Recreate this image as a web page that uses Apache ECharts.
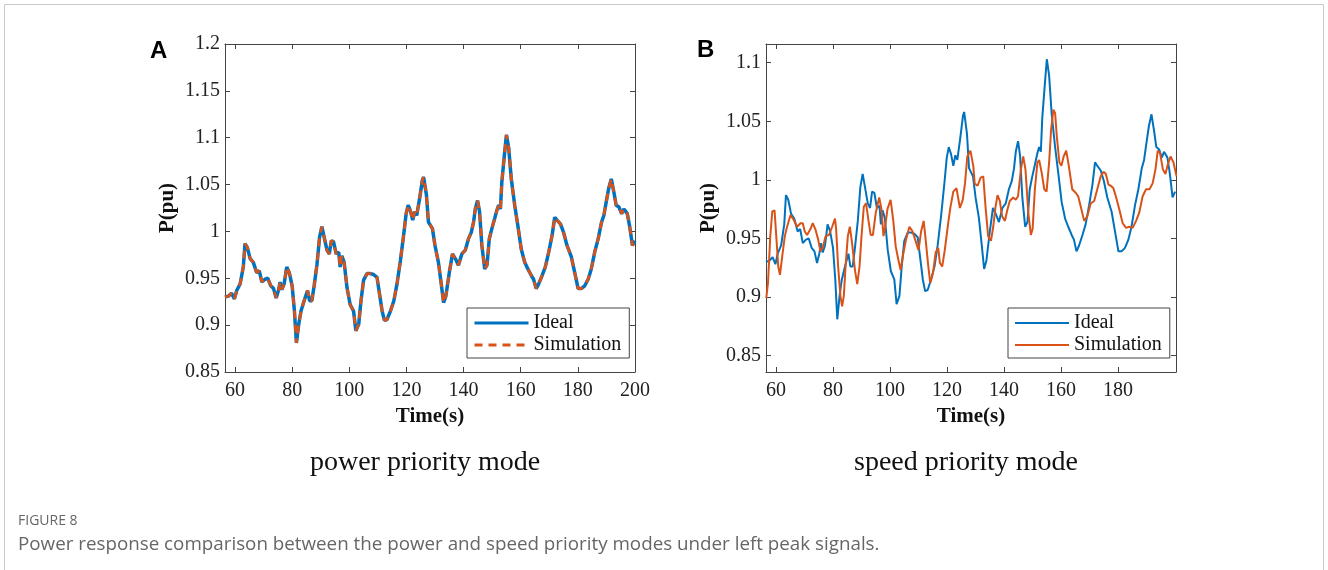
<!DOCTYPE html>
<html>
<head>
<meta charset="utf-8">
<title>Power response comparison</title>
<script src="https://cdn.jsdelivr.net/npm/echarts@6/dist/echarts.min.js"></script>
<style>
  html, body { margin: 0; padding: 0; background: #fff; }
  #chart { width: 1328px; height: 570px; }
</style>
</head>
<body>
<div id="chart"></div>
<script>
// ideal power reference (same signal in both panels), time in s
const idealT = [56.5, 57.7, 58.8, 59.8, 60.6, 61.8, 62.9, 63.5, 64.3, 65.3, 66.4, 67.6, 68.5, 69.4, 70.5, 71.5,
  72.5, 73.5, 74.4, 75.2, 75.8, 76.4, 77.2, 78.1, 79.0, 80.0, 80.8, 81.5, 82.3, 83.1, 84.2, 85.4, 86.1, 86.9,
  87.7, 88.7, 89.6, 90.4, 91.2, 92.2, 93.0, 93.7, 94.5, 95.4, 96.3, 96.8, 97.4, 98.2, 99.2, 100.3, 101.5,
  102.3, 103.3, 104.1, 105.0, 106.2, 107.4, 108.5, 109.7, 110.6, 111.5, 112.3, 113.2, 114.4, 115.6, 116.7,
  117.9, 119.1, 119.9, 120.6, 121.4, 122.2, 122.9, 123.6, 124.6, 125.6, 126.0, 127.0, 127.7, 129.1, 130.0,
  131.2, 132.1, 133.0, 133.8, 135.0, 136.1, 137.1, 138.2, 139.4, 140.6, 141.7, 142.7, 143.5, 144.1, 144.9,
  145.6, 146.4, 147.4, 148.2, 149.0, 149.9, 150.9, 151.7, 152.3, 152.9, 153.4, 154.4, 155.0, 155.8, 156.7,
  157.9, 159.0, 160.2, 161.4, 162.5, 163.7, 164.5, 165.4, 166.3, 167.5, 168.6, 169.8, 171.0, 171.9, 172.7,
  173.9, 175.0, 176.2, 177.7, 178.9, 180.1, 181.2, 182.4, 183.6, 184.7, 185.9, 187.1, 188.3, 189.1, 189.9,
  190.8, 191.7, 192.6, 193.4, 194.4, 195.3, 196.1, 197.3, 198.1, 199.1, 200.0]
const idealP = [0.930, 0.931, 0.934, 0.928, 0.937, 0.944, 0.962, 0.987, 0.983, 0.971, 0.967, 0.956, 0.958, 0.946,
  0.949, 0.950, 0.942, 0.939, 0.929, 0.937, 0.946, 0.938, 0.944, 0.962, 0.956, 0.942, 0.915, 0.881, 0.901,
  0.915, 0.926, 0.937, 0.926, 0.926, 0.942, 0.965, 0.994, 1.005, 0.994, 0.980, 0.976, 0.990, 0.989, 0.976,
  0.978, 0.962, 0.974, 0.967, 0.940, 0.922, 0.915, 0.894, 0.901, 0.926, 0.948, 0.955, 0.955, 0.954, 0.951,
  0.933, 0.915, 0.905, 0.906, 0.915, 0.926, 0.944, 0.969, 0.998, 1.019, 1.028, 1.022, 1.012, 1.021, 1.017,
  1.035, 1.055, 1.058, 1.039, 1.010, 1.003, 0.985, 0.967, 0.946, 0.924, 0.931, 0.956, 0.976, 0.971, 0.964,
  0.976, 0.980, 0.992, 0.999, 1.010, 1.024, 1.033, 1.021, 0.985, 0.960, 0.964, 0.992, 1.003, 1.014, 1.023,
  1.028, 1.024, 1.053, 1.085, 1.103, 1.089, 1.056, 1.028, 1.006, 0.981, 0.967, 0.960, 0.953, 0.949, 0.939,
  0.944, 0.953, 0.962, 0.978, 0.996, 1.015, 1.012, 1.008, 0.999, 0.985, 0.973, 0.956, 0.939, 0.939, 0.942,
  0.949, 0.960, 0.978, 0.992, 1.010, 1.017, 1.031, 1.046, 1.056, 1.042, 1.028, 1.026, 1.019, 1.024, 1.019,
  1.006, 0.985, 0.990]

// power priority mode: simulation lies on top of the ideal curve
const simPowerT = idealT
const simPowerP = idealP

// speed priority mode simulation
const simSpeedT = [56.6, 57.2, 58.0, 58.7, 59.5, 60.1, 60.8, 61.4, 62.2, 63.1, 63.9, 65.1, 66.2, 67.4, 68.6, 69.4,
  70.1, 70.9, 72.1, 72.9, 73.8, 74.8, 75.6, 76.4, 77.4, 78.6, 79.7, 80.7, 81.1, 81.8, 82.6, 83.2, 83.8, 84.4,
  85.2, 85.9, 86.7, 87.7, 88.5, 89.3, 90.0, 90.8, 91.6, 92.4, 93.2, 94.0, 95.0, 96.2, 97.0, 97.7, 98.3, 99.1,
  100.2, 101.1, 102.0, 102.9, 103.7, 104.5, 105.6, 106.8, 107.9, 109.2, 110.0, 110.9, 111.8, 112.5, 113.3,
  114.1, 115.1, 116.0, 116.9, 117.5, 118.3, 119.2, 120.4, 121.2, 122.2, 123.3, 124.5, 125.5, 126.3, 127.1,
  128.2, 129.2, 129.7, 130.7, 131.8, 132.7, 133.5, 134.4, 135.4, 136.2, 137.0, 137.7, 138.5, 139.3, 140.3,
  141.2, 142.0, 143.2, 144.1, 144.9, 145.9, 146.7, 147.5, 148.5, 149.4, 150.0, 150.8, 151.7, 152.3, 153.2,
  154.1, 154.9, 155.8, 156.5, 157.3, 157.9, 158.5, 159.4, 160.1, 160.9, 161.8, 162.7, 163.9, 165.1, 166.0,
  166.9, 168.1, 169.2, 170.4, 171.6, 172.8, 173.9, 174.9, 175.7, 176.6, 177.4, 178.3, 179.2, 180.4, 181.6,
  182.8, 183.9, 185.1, 186.3, 187.4, 188.6, 189.8, 191.0, 192.1, 193.1, 193.9, 194.7, 195.7, 196.6, 197.4,
  198.4, 199.4, 200.5]
const simSpeedP = [0.899, 0.912, 0.952, 0.973, 0.974, 0.952, 0.926, 0.919, 0.935, 0.952, 0.960, 0.970, 0.966, 0.960,
  0.963, 0.963, 0.956, 0.953, 0.958, 0.963, 0.958, 0.949, 0.939, 0.942, 0.952, 0.953, 0.960, 0.967, 0.958,
  0.926, 0.901, 0.892, 0.901, 0.926, 0.952, 0.960, 0.946, 0.923, 0.911, 0.926, 0.952, 0.977, 0.980, 0.966,
  0.953, 0.953, 0.972, 0.985, 0.975, 0.952, 0.960, 0.975, 0.983, 0.966, 0.943, 0.932, 0.923, 0.935, 0.949,
  0.960, 0.956, 0.946, 0.940, 0.956, 0.965, 0.949, 0.929, 0.912, 0.921, 0.938, 0.942, 0.929, 0.926, 0.940,
  0.963, 0.977, 0.990, 0.993, 0.976, 0.983, 0.997, 1.020, 1.025, 1.012, 0.997, 0.995, 1.002, 1.003, 0.977,
  0.952, 0.948, 0.960, 0.977, 0.987, 0.982, 0.969, 0.965, 0.975, 0.982, 0.985, 0.983, 0.986, 1.009, 1.020,
  1.009, 0.972, 0.953, 0.958, 0.992, 1.015, 1.017, 1.006, 0.992, 0.990, 1.015, 1.043, 1.060, 1.057, 1.037,
  1.015, 1.012, 1.020, 1.025, 1.012, 0.992, 0.989, 0.986, 0.977, 0.965, 0.969, 0.980, 0.982, 0.993, 1.003,
  1.007, 1.005, 0.996, 0.995, 0.993, 0.986, 0.975, 0.963, 0.959, 0.960, 0.959, 0.965, 0.972, 0.986, 0.992,
  0.992, 0.997, 1.009, 1.025, 1.023, 1.009, 1.005, 1.013, 1.020, 1.015, 1.003]

const timeTicks = [60, 80, 100, 120, 140, 160, 180, 200]
const timeTicksB = [60, 80, 100, 120, 140, 160, 180]
const powerTicksA = [0.85, 0.9, 0.95, 1, 1.05, 1.1, 1.15, 1.2]
const powerTicksB = [0.85, 0.9, 0.95, 1, 1.05, 1.1]

const BLUE = '#0072BD'
const ORANGE = '#D95319'
const AXIS = '#444'
const SERIF = '"Liberation Serif", "Times New Roman", serif'

function pairs(t, p) {
  return t.map((x, i) => [x, p[i]])
}

function xAx(grid, min, max, ticks, top) {
  return {
    type: 'value', gridIndex: grid, min: min, max: max,
    position: top ? 'top' : 'bottom',
    name: top ? '' : 'Time(s)',
    nameLocation: 'middle', nameGap: 34,
    nameTextStyle: { fontFamily: SERIF, fontSize: 21, fontWeight: 'bold', color: '#111' },
    axisLine: { show: true, lineStyle: { color: AXIS, width: 1 } },
    axisTick: { show: true, inside: true, length: 5, customValues: ticks, lineStyle: { color: AXIS } },
    axisLabel: { show: !top, customValues: ticks, margin: 9, fontFamily: SERIF, fontSize: 20, color: '#222' },
    splitLine: { show: false }
  }
}

function yAx(grid, min, max, ticks, right) {
  return {
    type: 'value', gridIndex: grid, min: min, max: max,
    position: right ? 'right' : 'left',
    name: right ? '' : 'P(pu)',
    nameLocation: 'middle', nameGap: 47, nameRotate: 90,
    nameTextStyle: { fontFamily: SERIF, fontSize: 21, fontWeight: 'bold', color: '#111' },
    axisLine: { show: true, lineStyle: { color: AXIS, width: 1 } },
    axisTick: { show: true, inside: true, length: 5, customValues: ticks, lineStyle: { color: AXIS } },
    axisLabel: { show: !right, customValues: ticks, margin: 5, fontFamily: SERIF, fontSize: 20, color: '#222' },
    splitLine: { show: false }
  }
}

function legendBox(left, dashed, width) {
  return {
    orient: 'vertical', left: left, top: 308,
    padding: [5, 8, 3, 6], itemGap: 2,
    itemWidth: 54, itemHeight: 20,
    borderColor: AXIS, borderWidth: 1, backgroundColor: '#fff',
    textStyle: { fontFamily: SERIF, fontSize: 20, color: '#111' },
    itemStyle: { opacity: 0 },
    data: [
      { name: 'Ideal', itemStyle: { opacity: 0 }, lineStyle: { color: BLUE, width: width, type: 'solid', opacity: 1 } },
      { name: 'Simulation', itemStyle: { opacity: 0 }, lineStyle: { color: ORANGE, width: width, type: dashed ? [8, 6] : 'solid', opacity: 1 } }
    ],
    selectedMode: false
  }
}

function label(x, y, text, font, color, align) {
  return {
    type: 'text', x: x, y: y, silent: true,
    style: { text: text, font: font, fill: color, align: align, textAlign: align, verticalAlign: 'middle', textVerticalAlign: 'middle' }
  }
}

const chart = echarts.init(document.getElementById('chart'))
chart.setOption({
  animation: false,
  backgroundColor: '#fff',
  grid: [
    { left: 225, top: 44, width: 410, height: 328 },
    { left: 766, top: 44, width: 410, height: 328 }
  ],
  xAxis: [
    xAx(0, 56.5, 200, timeTicks, false),
    xAx(0, 56.5, 200, timeTicks, true),
    xAx(1, 56.5, 200.3, timeTicksB, false),
    xAx(1, 56.5, 200.3, timeTicksB, true)
  ],
  yAxis: [
    yAx(0, 0.85, 1.2, powerTicksA, false),
    yAx(0, 0.85, 1.2, powerTicksA, true),
    yAx(1, 0.836, 1.116, powerTicksB, false),
    yAx(1, 0.836, 1.116, powerTicksB, true)
  ],
  legend: [legendBox(467, true, 3), legendBox(1008, false, 2)],
  series: [
    {
      name: 'Ideal', type: 'line', xAxisIndex: 0, yAxisIndex: 0,
      data: pairs(idealT, idealP), symbol: 'none',
      lineStyle: { color: BLUE, width: 3.5 }, itemStyle: { color: BLUE }
    },
    {
      name: 'Simulation', type: 'line', xAxisIndex: 0, yAxisIndex: 0,
      data: pairs(simPowerT, simPowerP), symbol: 'none',
      lineStyle: { color: ORANGE, width: 2.8, type: [8, 6] }, itemStyle: { color: ORANGE }
    },
    {
      name: 'Ideal', type: 'line', xAxisIndex: 2, yAxisIndex: 2,
      data: pairs(idealT, idealP), symbol: 'none',
      lineStyle: { color: BLUE, width: 2 }, itemStyle: { color: BLUE }
    },
    {
      name: 'Simulation', type: 'line', xAxisIndex: 2, yAxisIndex: 2,
      data: pairs(simSpeedT, simSpeedP), symbol: 'none',
      lineStyle: { color: ORANGE, width: 2 }, itemStyle: { color: ORANGE }
    }
  ],
  graphic: [
    {
      type: 'rect', silent: true, z: -1,
      shape: { x: 4.5, y: 4.5, width: 1319, height: 640 },
      style: { fill: 'none', stroke: '#c8c8c8', lineWidth: 1 }
    },
    label(150, 51, 'A', 'bold 24px "Liberation Sans", Arial, sans-serif', '#000', 'left'),
    label(697, 50, 'B', 'bold 24px "Liberation Sans", Arial, sans-serif', '#000', 'left'),
    label(425, 463, 'power priority mode', '28px ' + SERIF, '#111', 'center'),
    label(966, 463, 'speed priority mode', '28px ' + SERIF, '#111', 'center'),
    label(18, 521, 'FIGURE 8', '14px "Open Sans", sans-serif', '#666', 'left'),
    label(18, 545, 'Power response comparison between the power and speed priority modes under left peak signals.', '18.8px "Open Sans", sans-serif', '#666', 'left')
  ]
})
</script>
</body>
</html>
